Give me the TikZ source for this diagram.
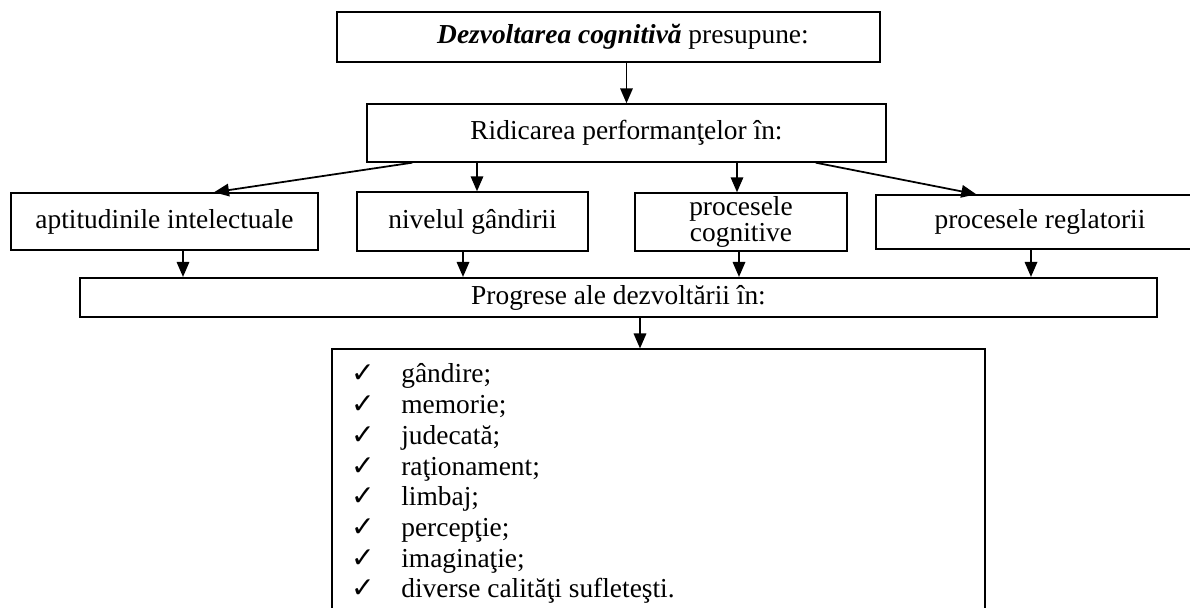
\documentclass[tikz,border=0pt]{standalone}
\usepackage{fontspec}
\setmainfont{Liberation Serif}
\newfontfamily\chkfont{DejaVu Sans}
\usetikzlibrary{arrows.meta, positioning}

\begin{document}
\begin{tikzpicture}[
    every node/.style={font=\fontsize{15.6}{18}\selectfont, inner sep=0pt, align=center}, % plain text nodes
    box/.style={draw, line width=0.8pt, minimum width=#1}, % framed boxes
    edge/.style={-{Triangle[length=0.3cm, width=0.25cm]}, line width=1pt}
]
\useasboundingbox (0,0) rectangle (23.8,12.16);

% Boxes, centres taken from the page (50 px = 1 cm)
\node[box=10.86cm, minimum height=1cm] (dezv) at (12.17, 11.42) {\hspace*{0.58cm}\textbf{\textit{Dezvoltarea cognitivă}} presupune:};
\node[box=10.38cm, minimum height=1.16cm] (ridic) at (12.53, 9.5) {Ridicarea performanţelor în:};
\node[box=6.14cm, minimum height=1.14cm] (aptit) at (3.29, 7.73) {aptitudinile intelectuale};
\node[box=4.62cm, minimum height=1.18cm] (nivel) at (9.45, 7.73) {nivelul gândirii};
\node[box=4.24cm, minimum height=1.16cm, font=\fontsize{15.6}{13}\selectfont] (cogn) at (14.82, 7.72) {procesele\\cognitive};
\node[box=6.56cm, minimum height=1.08cm] (regl) at (20.8, 7.72) {procesele reglatorii};
\node[box=21.54cm, minimum height=0.78cm, line width=1.2pt] (progr) at (12.37, 6.21) {Progrese ale dezvoltării în:};
\node[box=13.06cm, minimum height=5.32cm, line width=0.6pt] (lista) at (13.17, 2.52) {};

% List inside the last box
\foreach \txt [count=\i from 0] in {gândire;, memorie;, judecată;, raţionament;, limbaj;, percepţie;, imaginaţie;, diverse calităţi sufleteşti.} {
  \node[anchor=base] (ck\i) at (7.26, 4.5-0.614*\i) {\chkfont\fontsize{16}{16}\selectfont ✓};
  \node[anchor=base west] (it\i) at (8.02, 4.5-0.614*\i) {\txt};
}

% Edges
\draw[edge] (ridic.north |- dezv.south) -- (ridic.north);
\draw[edge] ([xshift=0.92cm]ridic.south west) -- ([xshift=0.99cm]aptit.north);
\draw[edge] ([xshift=0.09cm]nivel.north |- ridic.south) -- ([xshift=0.09cm]nivel.north);
\draw[edge] ([xshift=-0.08cm]cogn.north |- ridic.south) -- ([xshift=-0.08cm]cogn.north);
\draw[edge] ([xshift=-1.42cm]ridic.south east) -- ([xshift=2.02cm]regl.north west);
\draw[edge] ([xshift=0.37cm]aptit.south) -- ([xshift=0.37cm]aptit.south |- progr.north);
\draw[edge] ([xshift=-0.19cm]nivel.south) -- ([xshift=-0.19cm]nivel.south |- progr.north);
\draw[edge] ([xshift=-0.04cm]cogn.south) -- ([xshift=-0.04cm]cogn.south |- progr.north);
\draw[edge] ([xshift=-0.18cm]regl.south) -- ([xshift=-0.18cm]regl.south |- progr.north);
\draw[edge] ([xshift=-0.37cm]lista.north |- progr.south) -- ([xshift=-0.37cm]lista.north);

\end{tikzpicture}
\end{document}
